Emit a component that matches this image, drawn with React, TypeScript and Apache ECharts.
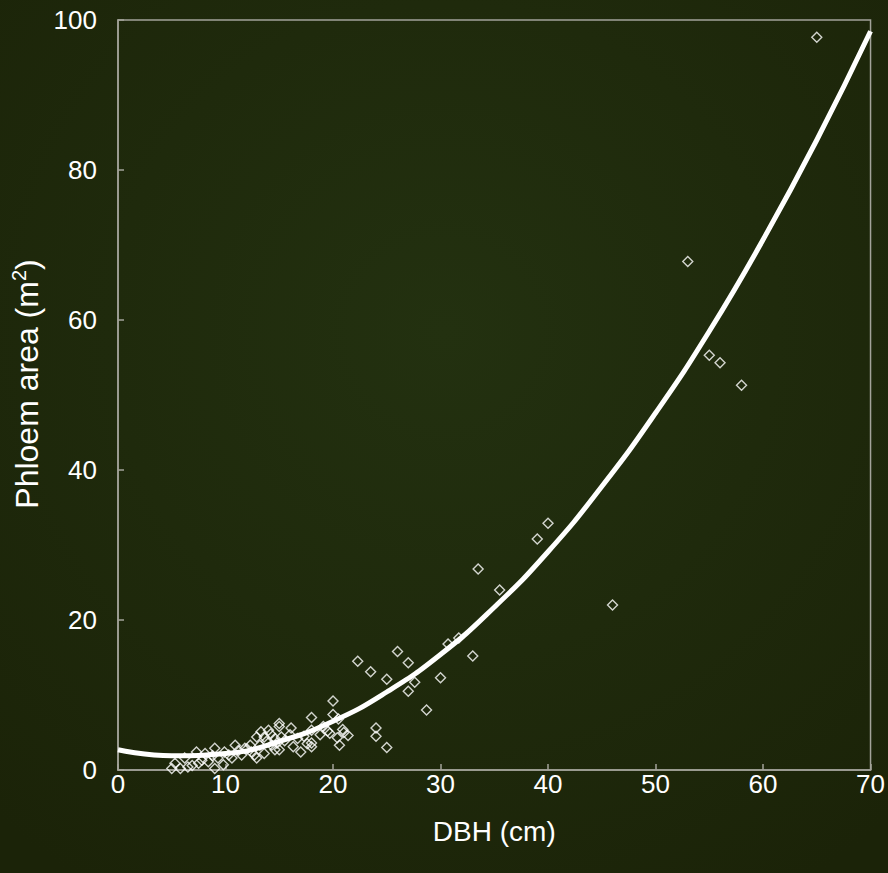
import React, { useEffect, useRef } from "react";
import * as echarts from "echarts";

// Observed data: DBH (cm) and phloem area (m²)
const dbh: number[] = [
  65, 53, 55, 56, 58, 46, 40, 39, 33.5, 35.5, 33, 31.7, 30.7, 30, 28.7, 27.6, 27, 27, 26, 25,
  23.5, 22.3, 25, 24, 24, 21.4, 20.9, 20.6, 20.0, 20.0, 20.5, 19.1, 19.7, 20.4, 18.8, 18.0, 18.0,
  18.0, 18.0, 17.0, 16.7, 16.3, 16.1, 16.0, 15.2, 15.0, 15.0, 15.0, 14.6, 14.6, 14.3, 14.0, 13.6,
  13.6, 13.3, 13.2, 12.9, 12.9, 12.7, 12.4, 12.3, 11.8, 11.5, 10.9, 10.6, 9.9, 9.8, 9.3, 9.0, 9.0,
  8.4, 8.1, 7.5, 7.3, 6.5, 6.2, 5.8, 5.3, 5.0, 13.8, 14.2, 14.8, 15.5, 12.0, 11.2, 10.3, 8.8, 7.8,
  6.9, 17.3, 17.6, 19.5, 21.0,
];
const area: number[] = [
  97.7, 67.8, 55.3, 54.3, 51.3, 22.0, 32.9, 30.8, 26.8, 24.0, 15.2, 17.6, 16.8, 12.3, 8.0, 11.7,
  14.3, 10.5, 15.8, 12.1, 13.1, 14.5, 3.0, 5.6, 4.5, 4.6, 5.4, 3.3, 9.2, 7.4, 6.8, 5.8, 4.9, 4.3,
  4.7, 7.0, 5.3, 3.6, 3.1, 2.4, 4.2, 3.1, 5.6, 4.7, 4.4, 6.2, 5.8, 2.7, 4.2, 2.7, 3.3, 5.3, 4.4,
  2.2, 5.1, 3.3, 4.4, 1.6, 2.0, 2.4, 3.3, 2.9, 2.0, 3.3, 1.6, 2.4, 0.7, 1.6, 2.9, 0.2, 1.1, 2.2,
  0.9, 2.4, 0.4, 1.6, 0.2, 0.9, 0.2, 3.8, 4.8, 3.6, 3.9, 2.8, 2.6, 2.0, 1.9, 1.3, 0.6, 4.5, 3.5,
  5.2, 5.0,
];

// Fitted trend curve
const fitX: number[] = [0, 5, 10, 15, 20, 25, 30, 35, 40, 45, 50, 55, 60, 65, 70];
const fitY: number[] = [2.7, 1.9, 2.2, 3.8, 6.5, 10.4, 15.4, 21.7, 29.1, 37.8, 47.6, 58.5, 70.7, 84.0, 98.5];

const xTicks = { min: 0, max: 70, interval: 10 };
const yTicks = { min: 0, max: 100, interval: 20 };

export default function App() {
  const ref = useRef<HTMLDivElement>(null);
  useEffect(() => {
    if (!ref.current) return;
    const chart = echarts.init(ref.current, undefined, { renderer: "svg" });
    const font = "'Liberation Sans', Arial, sans-serif";
    const axisColor = "#a3a39a";
    chart.setOption({
      animation: false,
      backgroundColor: {
        type: "radial",
        x: 0.5,
        y: 0.38,
        r: 0.75,
        colorStops: [
          { offset: 0, color: "#233110" },
          { offset: 1, color: "#1b2308" },
        ],
      },
      grid: {
        left: 118,
        top: 20,
        right: 16,
        bottom: 103,
        show: true,
        borderColor: axisColor,
        borderWidth: 1.5,
        backgroundColor: "transparent",
      },
      xAxis: {
        type: "value",
        ...xTicks,
        name: "DBH (cm)",
        nameLocation: "middle",
        nameGap: 47,
        nameTextStyle: { color: "#ffffff", fontSize: 28, fontFamily: font },
        axisLine: { lineStyle: { color: axisColor, width: 1.5 } },
        axisTick: { inside: true, length: 6, lineStyle: { color: axisColor, width: 1.5 } },
        axisLabel: { color: "#ffffff", fontSize: 26, fontFamily: font, margin: 1 },
        splitLine: { show: false },
      },
      yAxis: {
        type: "value",
        ...yTicks,
        name: "Phloem area (m{sup|2})",
        nameLocation: "middle",
        nameGap: 73,
        nameTextStyle: {
          color: "#ffffff",
          fontSize: 32,
          fontFamily: font,
          padding: [0, 0, 0, 22],
          rich: {
            sup: { color: "#ffffff", fontSize: 20, fontFamily: font, padding: [0, 0, 15, 0] },
          },
        },
        axisLine: { show: true, lineStyle: { color: axisColor, width: 1.5 } },
        axisTick: { show: true, inside: true, length: 6, lineStyle: { color: axisColor, width: 1.5 } },
        axisLabel: { color: "#ffffff", fontSize: 26, fontFamily: font, margin: 21 },
        splitLine: { show: false },
      },
      series: [
        {
          type: "scatter",
          data: dbh.map((x, i) => [x, area[i]]),
          symbol: "diamond",
          symbolSize: [10, 10],
          itemStyle: { color: "transparent", borderColor: "#ffffff", borderWidth: 1.4 },
          z: 2,
        },
        {
          type: "line",
          data: fitX.map((x, i) => [x, fitY[i]]),
          smooth: true,
          showSymbol: false,
          symbol: "none",
          lineStyle: { color: "#ffffff", width: 5 },
          z: 3,
        },
      ],
    });
    return () => chart.dispose();
  }, []);
  return (
    <div
      ref={ref}
      style={{ position: "absolute", left: 0, top: 0, width: 888, height: 873 }}
    />
  );
}
